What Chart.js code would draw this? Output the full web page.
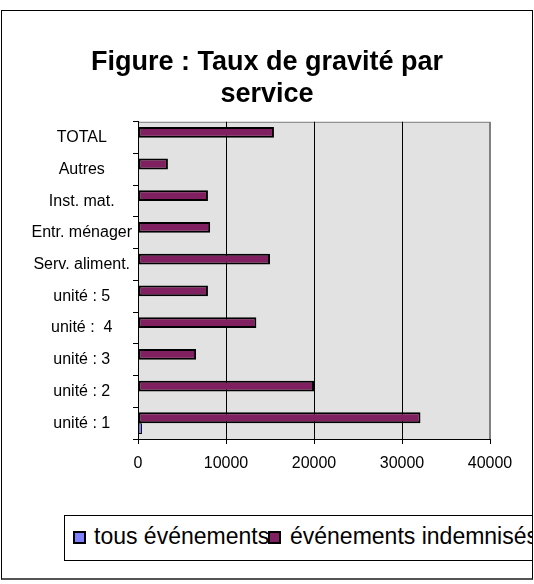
<!DOCTYPE html>
<html>
<head>
<meta charset="utf-8">
<script src="https://cdn.jsdelivr.net/npm/chart.js@4"></script>
<style>
  body { margin: 0; background: #fff; }
  #wrap { position: relative; width: 534px; height: 584px; }
  #frame { position: absolute; left: 1px; top: 10px; width: 530px; height: 567px;
           border: 1px solid #000; border-bottom: 2px solid #555; pointer-events: none; }
  #legend { position: absolute; left: 64px; top: 515px; width: 467px; height: 44px;
            border: 1px solid #000; background: #fff; overflow: hidden;
            font: 23px "Liberation Sans", Arial, sans-serif; color: #000; }
  .sq { position: absolute; top: 15px; width: 13px; height: 13px; box-sizing: border-box;
        border: 2px solid #000; z-index: 2; }
  .txt { position: absolute; top: 9px; line-height: 23px; white-space: nowrap; z-index: 1; }
</style>
</head>
<body>
<div id="wrap">
  <canvas id="myChart" width="534" height="584"></canvas>
  <div id="frame"></div>
  <div id="legend"></div>
</div>
<script>
// categories, top to bottom
const services = ['TOTAL', 'Autres', 'Inst. mat.', 'Entr. ménager', 'Serv. aliment.',
                  'unité : 5', 'unité :  4', 'unité : 3', 'unité : 2', 'unité : 1'];
// series values
const tousEvenements = [0, 0, 0, 0, 0, 0, 0, 0, 0, 450];
const evenementsIndemnises = [15450, 3400, 7950, 8200, 15000, 7950, 13450, 6600, 20000, 32100];
const seriesNames = ['tous événements', 'événements indemnisés'];
const seriesColors = ['#8080ff', '#802060'];
const xTicks = [0, 10000, 20000, 30000, 40000];

const font = '"Liberation Sans", Arial, sans-serif';

// legend (boxed, clipped like the original)
const legendLefts = [8, 203];
const legend = document.getElementById('legend');
seriesNames.forEach((name, i) => {
    const sq = document.createElement('span');
    sq.className = 'sq';
    sq.style.left = legendLefts[i] + 'px';
    sq.style.background = seriesColors[i];
    const t = document.createElement('span');
    t.className = 'txt';
    t.style.left = (legendLefts[i] + 21 + i) + 'px';
    t.textContent = name;
    legend.appendChild(sq);
    legend.appendChild(t);
});

const plotBg = {
    id: 'plotBg',
    beforeDraw(chart) {
        const { ctx, chartArea: a } = chart;
        ctx.save();
        ctx.fillStyle = '#e2e2e2';
        ctx.fillRect(a.left, a.top, a.right - a.left, a.bottom - a.top);
        ctx.strokeStyle = '#808080';
        ctx.lineWidth = 1;
        ctx.strokeRect(a.left + 0.5, a.top + 0.5, a.right - a.left - 1, a.bottom - a.top);
        ctx.restore();
    }
};

const ctx = document.getElementById('myChart').getContext('2d');
new Chart(ctx, {
    type: 'bar',
    data: {
        labels: services,
        datasets: [
            {
                label: seriesNames[1],
                data: evenementsIndemnises,
                backgroundColor: seriesColors[1],
                borderColor: '#000',
                borderWidth: 2,
                borderSkipped: false
            },
            {
                label: seriesNames[0],
                data: tousEvenements,
                backgroundColor: seriesColors[0],
                borderColor: '#000',
                borderWidth: 1,
                borderSkipped: false
            }
        ]
    },
    options: {
        indexAxis: 'y',
        responsive: false,
        animation: false,
        categoryPercentage: 0.68,
        barPercentage: 1,
        layout: { padding: 0 },
        plugins: {
            legend: { display: false },
            tooltip: { enabled: false },
            title: {
                display: true,
                text: ['Figure : Taux de gravité par', 'service'],
                color: '#000',
                font: { family: font, size: 27, weight: 'bold', lineHeight: 1.2 },
                padding: { top: 46, bottom: 11 }
            }
        },
        scales: {
            x: {
                min: 0,
                max: 40000,
                afterBuildTicks(s) { s.ticks = xTicks.map(v => ({ value: v })); },
                afterFit(s) { s.height = 145; },
                border: { color: '#000', width: 1 },
                grid: {
                    color: c => (c.tick && c.tick.value === 40000) ? '#808080' : '#000',
                    tickColor: '#000',
                    tickLength: 5
                },
                ticks: {
                    color: '#000',
                    padding: 10,
                    maxRotation: 0,
                    font: { family: font, size: 16 },
                    callback: v => String(v)
                }
            },
            y: {
                afterFit(s) { s.width = 138; },
                border: { color: '#000', width: 1 },
                grid: {
                    offset: true,
                    drawOnChartArea: false,
                    color: '#000',
                    tickLength: 5
                },
                ticks: {
                    color: '#000',
                    padding: 1,
                    crossAlign: 'center',
                    font: { family: font, size: 16 }
                }
            },
            yRight: {
                type: 'linear',
                position: 'right',
                display: true,
                grid: { display: false },
                border: { display: false },
                ticks: { display: false },
                afterFit(s) { s.width = 44; }
            }
        }
    },
    plugins: [plotBg]
});
</script>
</body>
</html>
